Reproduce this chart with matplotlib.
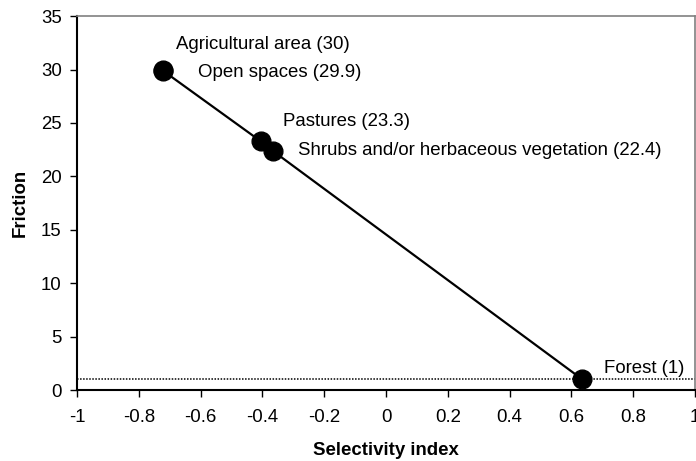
import matplotlib
matplotlib.use("Agg")
import matplotlib.pyplot as plt

plt.rcParams['font.family'] = ['Liberation Sans', 'DejaVu Sans']

labels = ["Agricultural area (30)", "Open spaces (29.9)", "Pastures (23.3)",
          "Shrubs and/or herbaceous vegetation (22.4)", "Forest (1)"]
sel_index = [-0.722, -0.722, -0.406, -0.367, 0.635]
friction = [30, 29.9, 23.3, 22.4, 1]
label_x = [-0.68, -0.608, -0.333, -0.285, 0.706]
label_y = [32.3, 29.7, 25.1, 22.4, 2.06]

fig = plt.figure(figsize=(6.96, 4.61), dpi=100)
ax = fig.add_axes([0.1106, 0.154, 0.888, 0.811])

ax.axhline(1, color='black', linestyle=(0, (1, 1.0)), linewidth=1.1, zorder=1)
ax.plot(sel_index, friction, color='black', linewidth=1.6, marker='o',
        markersize=13.5, zorder=3, clip_on=False)

for t, lx, ly in zip(labels, label_x, label_y):
    ax.text(lx, ly, t, fontsize=13.4, va='center', ha='left')

ax.set_xlim(-1, 1)
ax.set_ylim(0, 35)
ax.set_xticks([-1, -0.8, -0.6, -0.4, -0.2, 0, 0.2, 0.4, 0.6, 0.8, 1])
ax.set_xticklabels(["-1", "-0.8", "-0.6", "-0.4", "-0.2", "0", "0.2", "0.4", "0.6", "0.8", "1"])
ax.set_yticks([0, 5, 10, 15, 20, 25, 30, 35])
ax.tick_params(axis='both', direction='out', length=5, width=1, labelsize=13.4)
ax.tick_params(axis='y', pad=6)
ax.tick_params(axis='x', pad=9)

for s in ['left', 'bottom']:
    ax.spines[s].set_color('black')
    ax.spines[s].set_linewidth(1.5)
for s in ['top', 'right']:
    ax.spines[s].set_color('#808080')
    ax.spines[s].set_linewidth(1.2)

ax.set_xlabel("Selectivity index", fontsize=13.4, fontweight='bold', labelpad=11)
ax.set_ylabel("Friction", fontsize=13.4, fontweight='bold', labelpad=9)

fig.savefig("out.png", dpi=100)
